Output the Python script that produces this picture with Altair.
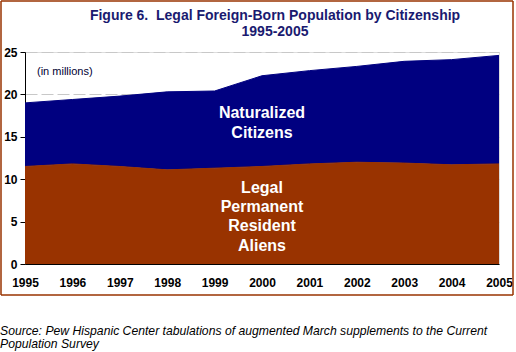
import altair as alt
import pandas as pd

years = [1995, 1996, 1997, 1998, 1999, 2000, 2001, 2002, 2003, 2004, 2005]
legal_permanent = [11.5, 11.8, 11.5, 11.1, 11.3, 11.5, 11.8, 12.0, 11.9, 11.7, 11.8]
naturalized = [7.5, 7.6, 8.3, 9.2, 9.1, 10.7, 11.0, 11.3, 12.0, 12.4, 12.8]
series_names = ["Legal Permanent Resident Aliens", "Naturalized Citizens"]
series_colors = ["#993300", "#000080"]
y_ticks = [0, 5, 10, 15, 20, 25]
title_lines = ["Figure 6.\u00a0 Legal Foreign-Born Population by Citizenship", "1995-2005"]
source_lines = ["Source: Pew Hispanic Center tabulations of augmented March supplements to the Current",
                "Population Survey"]

FONT = "Liberation Sans"

rows = []
for i, yr in enumerate(years):
    rows.append({"year": yr, "series": series_names[0], "value": legal_permanent[i], "order": 0})
    rows.append({"year": yr, "series": series_names[1], "value": naturalized[i], "order": 1})
df = pd.DataFrame(rows)

x_enc = alt.X("year:Q", scale=alt.Scale(domain=[1995, 2005], nice=False, zero=False),
              axis=alt.Axis(values=years, format="d", title=None, grid=False, ticks=False,
                            labelPadding=13, labelFontSize=12, labelFontWeight="bold",
                            labelFont=FONT, labelColor="#000000", domainColor="#000000",
                            labelOverlap=False, labelFlush=False))
y_enc = alt.Y("value:Q", stack="zero", scale=alt.Scale(domain=[0, 25], nice=False),
              axis=alt.Axis(values=y_ticks, title=None, grid=True, gridColor="#c8c8c8",
                            gridDash=[12, 4], tickSize=5, tickColor="#000000",
                            labelPadding=3, labelFontSize=12, labelFontWeight="bold",
                            labelFont=FONT, labelColor="#000000", domainColor="#000000"))

areas = alt.Chart(df).mark_area(line={"color": "#000000", "strokeWidth": 1}, opacity=1).encode(
    x=x_enc,
    y=y_enc,
    color=alt.Color("series:N", scale=alt.Scale(domain=series_names, range=series_colors), legend=None),
    order=alt.Order("order:Q"),
)

lbl_df = pd.DataFrame({
    "year": [2000, 2000],
    "value": [17.75, 9.0],
    "label": [["Naturalized", "Citizens"], ["Legal", "Permanent", "Resident", "Aliens"]],
})
inner_labels = alt.Chart(lbl_df).mark_text(
    color="white", fontSize=16, fontWeight="bold", font=FONT, align="center",
    baseline="middle", lineHeight=19.3
).encode(x="year:Q", y="value:Q", text="label")

units = alt.Chart(pd.DataFrame({"t": ["(in millions)"]})).mark_text(
    fontSize=11, font=FONT, color="#000033", align="left", baseline="alphabetic"
).encode(x=alt.value(12), y=alt.value(23), text="t:N")

title1 = alt.Chart(pd.DataFrame({"t": [title_lines[0]]})).mark_text(
    fontSize=14, font=FONT, fontWeight="bold", color="#1a1a70", align="center", baseline="alphabetic"
).encode(x=alt.value(250), y=alt.value(-32.5), text="t:N")
title2 = alt.Chart(pd.DataFrame({"t": [title_lines[1]]})).mark_text(
    fontSize=14, font=FONT, fontWeight="bold", color="#1a1a70", align="center", baseline="alphabetic"
).encode(x=alt.value(250), y=alt.value(-16), text="t:N")

source = alt.Chart(pd.DataFrame({"t": [source_lines]})).mark_text(
    fontSize=12.2, font=FONT, fontStyle="italic", color="#000000", align="left",
    baseline="alphabetic", lineHeight=13
).encode(x=alt.value(-25), y=alt.value(283), text="t")

frame_color = "#993300"
one = pd.DataFrame({"a": [0]})
f_top = alt.Chart(one).mark_rule(color=frame_color, strokeWidth=1.5).encode(
    x=alt.value(-24), x2=alt.value(488), y=alt.value(-51))
f_bot = alt.Chart(one).mark_rule(color=frame_color, strokeWidth=1.5).encode(
    x=alt.value(-24), x2=alt.value(488), y=alt.value(243))
f_left = alt.Chart(one).mark_rule(color=frame_color, strokeWidth=1.5).encode(
    x=alt.value(-24), y=alt.value(-51), y2=alt.value(243))
f_right = alt.Chart(one).mark_rule(color=frame_color, strokeWidth=1.5).encode(
    x=alt.value(488), y=alt.value(-51), y2=alt.value(243))

chart = alt.layer(areas, inner_labels, units, title1, title2, source,
                  f_top, f_bot, f_left, f_right).properties(
    width=474, height=212,
    padding={"left": 25, "top": 52, "right": 17, "bottom": 88},
    autosize=alt.AutoSizeParams(type="none"),
).configure_view(stroke="#808080", strokeWidth=1).configure(background="white")

chart.save("out.html", embed_options={"renderer": "svg", "actions": False})
